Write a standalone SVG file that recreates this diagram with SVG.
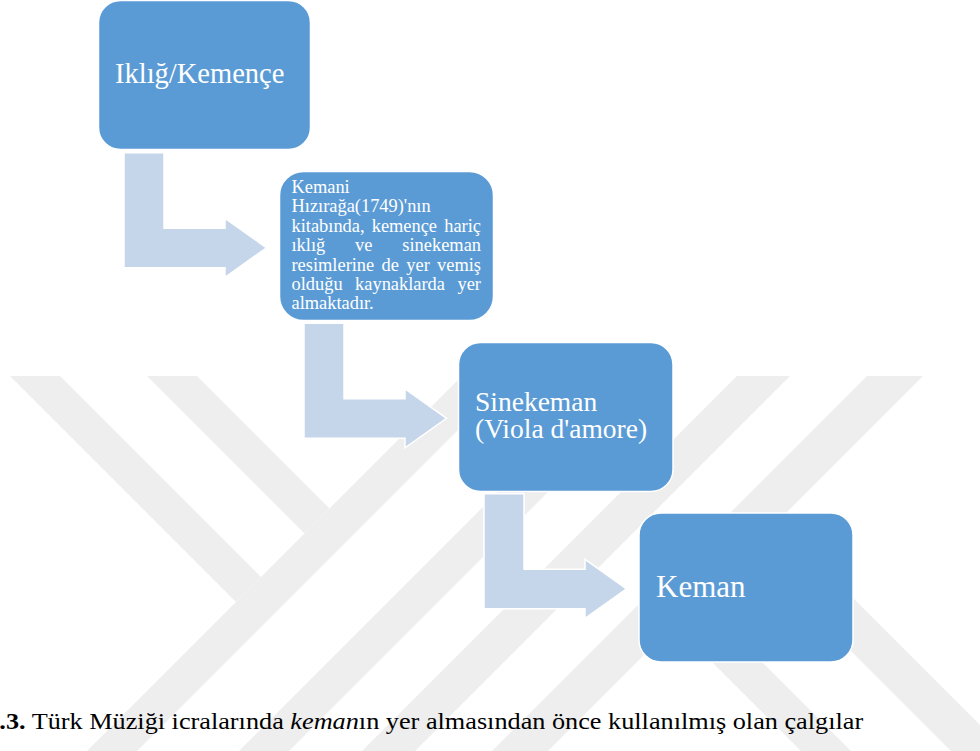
<svg xmlns="http://www.w3.org/2000/svg" width="980" height="751" viewBox="0 0 980 751">
  <style>
    .wm { fill: #eeeeee; }
    .box { fill: #5b9bd5; stroke: #ffffff; stroke-width: 1.5; }
    .arrow { fill: #c5d5ea; stroke: #ffffff; stroke-width: 1.5; }
    .lbl { font-family: "Liberation Serif", "Times New Roman", serif; fill: #ffffff; }
    .small { font-size: 18.4px; }
    .cap { font-family: "Liberation Serif", "Times New Roman", serif; fill: #000000; font-size: 24px; }
  </style>
  <defs>
    <path id="bent-arrow" d="M124,152.7 H164 V228.3 H225 V218.3 L266.5,247.8 L225,277.3 V267.7 H124 Z"/>
  </defs>

  <rect width="980" height="751" fill="#ffffff"/>

  <!-- faint background logo made of diagonal bands -->
  <g id="watermark">
    <polygon class="wm" points="10,376 60,376 261,577 236,602"/>
    <polygon class="wm" points="147,376 197,376 329.5,508.5 304.5,533.5"/>
    <polygon class="wm" points="462,376 512,376 137,751 87,751"/>
    <polygon class="wm" points="614,376 664,376 289,751 239,751"/>
    <polygon class="wm" points="737,376 790,376 415,751 362,751"/>
    <polygon class="wm" points="867,376 923,376 548,751 492,751"/>
    <polygon class="wm" points="674.5,624.5 699.5,599.5 851,751 801,751"/>
    <polygon class="wm" points="749.5,549.5 777,522 1006,751 951,751"/>
  </g>

  <!-- bent arrows between consecutive steps -->
  <g id="connectors">
    <use href="#bent-arrow" class="arrow"/>
    <use href="#bent-arrow" class="arrow" transform="translate(180,170.5)"/>
    <use href="#bent-arrow" class="arrow" transform="translate(360,341)"/>
  </g>

  <g id="node-iklig">
    <rect class="box" x="98.5" y="0.5" width="212" height="149" rx="22"/>
    <text class="lbl" x="115" y="83" font-size="28.5">Iklığ/Kemençe</text>
  </g>

  <g id="node-hiziraga">
    <rect class="box" x="279.5" y="171.5" width="214" height="149" rx="24"/>
    <text class="lbl small" x="291.5" y="193">Kemani</text>
    <text class="lbl small" x="291.5" y="212">Hızırağa(1749)'nın</text>
    <text class="lbl small" x="291.5" y="231.5">kitabında,</text>
    <text class="lbl small" x="371.7" y="231.5">kemençe</text>
    <text class="lbl small" x="481" y="231.5" text-anchor="end">hariç</text>
    <text class="lbl small" x="291.5" y="251">ıklığ</text>
    <text class="lbl small" x="355.1" y="251">ve</text>
    <text class="lbl small" x="481" y="251" text-anchor="end">sinekeman</text>
    <text class="lbl small" x="291.5" y="270.5">resimlerine</text>
    <text class="lbl small" x="381.6" y="270.5">de</text>
    <text class="lbl small" x="406.3" y="270.5">yer</text>
    <text class="lbl small" x="481" y="270.5" text-anchor="end">vemiş</text>
    <text class="lbl small" x="291.5" y="290">olduğu</text>
    <text class="lbl small" x="355.1" y="290">kaynaklarda</text>
    <text class="lbl small" x="481" y="290" text-anchor="end">yer</text>
    <text class="lbl small" x="291.5" y="309">almaktadır.</text>
  </g>

  <g id="node-sinekeman">
    <rect class="box" x="458.5" y="342.5" width="214.5" height="149" rx="22"/>
    <text class="lbl" x="475" y="411" font-size="27.5">Sinekeman</text>
    <text class="lbl" x="475" y="438" font-size="27.5">(Viola d'amore)</text>
  </g>

  <g id="node-keman">
    <rect class="box" x="639" y="513" width="214" height="149" rx="22"/>
    <text class="lbl" x="656" y="597" font-size="31">Keman</text>
  </g>

  <!-- figure caption -->
  <text class="cap" transform="matrix(1.094 0 0 1 0 0)" x="-12.6" y="729"><tspan font-weight="bold">1.3.</tspan> Türk Müziği icralarında <tspan font-style="italic">keman</tspan>ın yer almasından önce kullanılmış olan çalgılar</text>
</svg>
